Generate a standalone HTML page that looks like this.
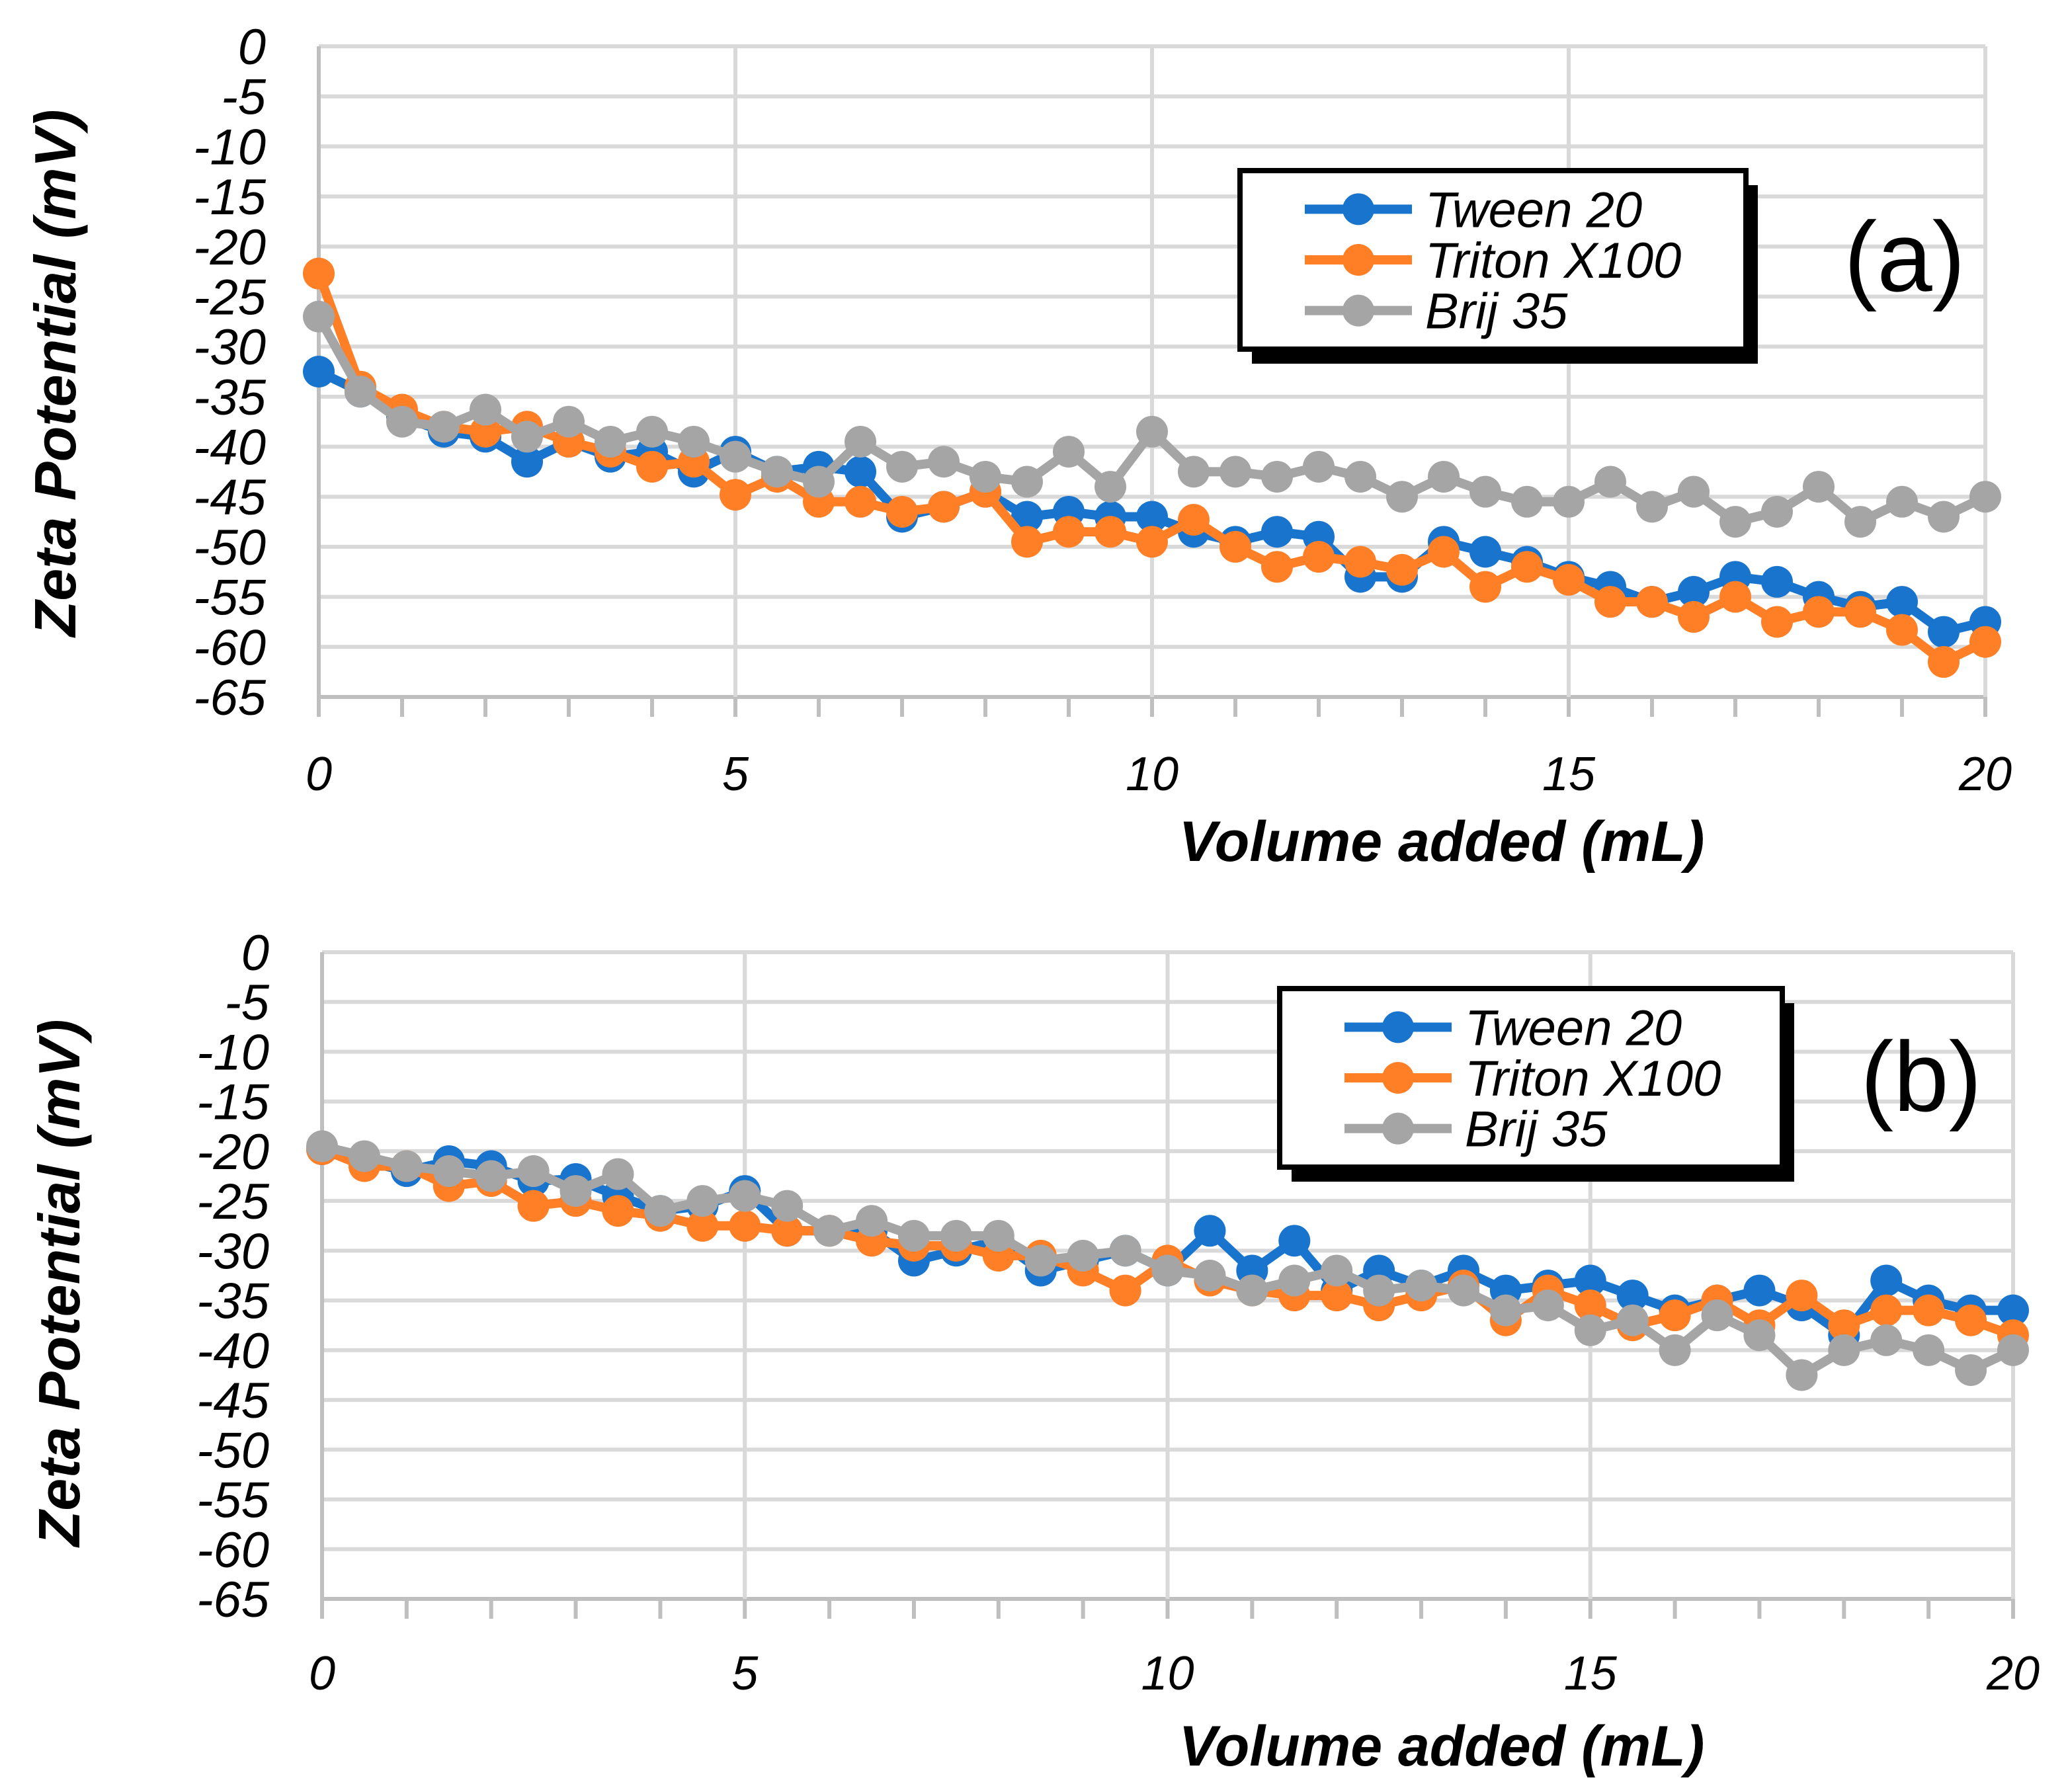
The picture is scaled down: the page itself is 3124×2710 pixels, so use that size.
<!DOCTYPE html>
<html><head><meta charset="utf-8">
<style>
html,body{margin:0;padding:0;background:#fff;}
svg{display:block;font-family:"Liberation Sans",sans-serif;}
</style></head>
<body>
<svg id="svg" width="3124" height="2710" viewBox="0 0 3124 2710" xmlns="http://www.w3.org/2000/svg"></svg>
<script>
const xValues = [0,0.5,1,1.5,2,2.5,3,3.5,4,4.5,5,5.5,6,6.5,7,7.5,8,8.5,9,9.5,10,10.5,11,11.5,12,12.5,13,13.5,14,14.5,15,15.5,16,16.5,17,17.5,18,18.5,19,19.5,20];
const seriesNames = ["Tween 20","Triton X100","Brij 35"];
const seriesColors = ["#1874cd","#ff7f27","#a5a5a5"];
const tweenA = [-32.5,-34.5,-37,-38.5,-39,-41.5,-39.5,-41,-40.5,-42.5,-40.5,-42.5,-42,-42.5,-47,-46,-44.5,-47,-46.5,-47,-47,-48.5,-49.5,-48.5,-49,-53,-53,-49.5,-50.5,-51.5,-53,-54,-55.5,-54.5,-53,-53.5,-55,-56,-55.5,-58.5,-57.5];
const tritonA = [-22.7,-34,-36.3,-38,-38.5,-38,-39.5,-40.5,-42,-41.5,-44.8,-43,-45.5,-45.5,-46.5,-46,-44.5,-49.5,-48.5,-48.5,-49.5,-47.3,-50,-52,-51,-51.5,-52.3,-50.5,-54,-52,-53.3,-55.5,-55.5,-57,-55,-57.5,-56.5,-56.5,-58.3,-61.5,-59.5];
const brijA = [-27,-34.5,-37.5,-38,-36.3,-39,-37.5,-39.5,-38.5,-39.5,-41,-42.5,-43.5,-39.5,-42,-41.5,-43,-43.5,-40.5,-44,-38.5,-42.5,-42.5,-43,-42,-43,-45,-43,-44.5,-45.5,-45.5,-43.5,-46,-44.5,-47.5,-46.5,-44,-47.5,-45.5,-47,-45];
const tweenB = [-19.8,-21,-22,-21,-21.5,-23,-22.8,-24.5,-26,-25.5,-24,-28,-28,-28,-31,-30,-29,-32,-31,-30,-32,-28,-32,-29,-34,-32,-33.5,-32,-34,-33.5,-33,-34.5,-36,-35,-34,-35.5,-38.5,-33,-35,-36,-36];
const tritonB = [-19.8,-21.5,-21.5,-23.5,-23,-25.5,-25,-26,-26.5,-27.5,-27.5,-28,-28,-29,-29.5,-29.5,-30.5,-30.5,-32,-34,-31,-33,-34,-34.5,-34.5,-35.5,-34.5,-33.5,-37,-34,-35.5,-37.5,-36.5,-35,-37.5,-34.5,-37.5,-36,-36,-37,-38.5];
const brijB = [-19.5,-20.5,-21.5,-22,-22.5,-22,-24,-22.3,-26,-25,-24.5,-25.5,-28,-27,-28.5,-28.5,-28.5,-31,-30.5,-30,-32,-32.5,-34,-33,-32,-34,-33.5,-34,-36,-35.5,-38,-37,-40,-36.5,-38.5,-42.5,-40,-39,-40,-42,-40];
const yTicks = [0,-5,-10,-15,-20,-25,-30,-35,-40,-45,-50,-55,-60,-65];
const xTicks = [0,5,10,15,20];

const NS="http://www.w3.org/2000/svg";
const svg=document.getElementById('svg');
function mk(tag,attrs,parent){const e=document.createElementNS(NS,tag);for(const k in attrs)e.setAttribute(k,attrs[k]);(parent||svg).appendChild(e);return e;}

function drawChart(cfg){
  const g=mk('g',{});
  
  
  const X=v=>cfg.x0+(v-0)/(20-0)*(cfg.x1-cfg.x0);
  const Y=v=>cfg.y0+(0-v)/(65)*(cfg.y1-cfg.y0);
  yTicks.forEach(t=>{
    const l=mk('line',{x1:X(0),x2:X(20),y1:Y(t),y2:Y(t),stroke:t===-65?'#bfbfbf':'#d9d9d9','stroke-width':6},g);
    
    
    const tx=mk('text',{x:cfg.x0-80,y:Y(t)+27,'text-anchor':'end','font-size':76,'font-style':'italic',fill:'#000'},g);
    tx.textContent=String(t);
    
    
  });
  xTicks.forEach(t=>{
    const l=mk('line',{x1:X(t),x2:X(t),y1:Y(0),y2:Y(-65),stroke:t===0?'#bfbfbf':'#d9d9d9','stroke-width':6},g);
    
    
    const tx=mk('text',{x:X(t),y:cfg.xLabelY,'text-anchor':'middle','font-size':72,'font-style':'italic',fill:'#000'},g);
    tx.textContent=String(t);
    
    
  });
  for(let t=0;t<=20;t++){
    const l=mk('line',{x1:X(t),x2:X(t),y1:Y(-65),y2:Y(-65)+30,stroke:'#bfbfbf','stroke-width':6},g);
    
    
  }
  cfg.series.forEach((s,i)=>{
    const sg=mk('g',{},g);
    
    
    const pts=xValues.map((x,j)=>X(x)+','+Y(s[j])).join(' ');
    const pl=mk('polyline',{points:pts,fill:'none',stroke:seriesColors[i],'stroke-width':14,'stroke-linejoin':'round'},sg);
    
    
    xValues.forEach((x,j)=>{
      const c=mk('circle',{cx:X(x),cy:Y(s[j]),r:24,fill:seriesColors[i]},sg);
      
      
    });
  });
  const xt=mk('text',{x:cfg.xTitleX,y:cfg.xTitleY,'text-anchor':'middle','font-size':86,'font-style':'italic','font-weight':'bold',fill:'#000'},g);
  xt.textContent='Volume added (mL)';
  
  
  const yt=mk('text',{x:0,y:0,'text-anchor':'middle','font-size':88,'font-style':'italic','font-weight':'bold',fill:'#000',transform:`translate(${cfg.yTitleX},${cfg.yTitleY}) rotate(-90)`},g);
  yt.textContent='Zeta Potential (mV)';
  
  
  const L=cfg.legend;
  const lg=mk('g',{},g);
  
  
  mk('rect',{x:L.x+18,y:L.y+22,width:L.w,height:L.h,fill:'#000'},lg);
  mk('rect',{x:L.x,y:L.y,width:L.w,height:L.h,fill:'#fff',stroke:'#000','stroke-width':8},lg);
  const rowH=(L.h-40)/3;
  seriesNames.forEach((n,i)=>{
    const cy=L.y+20+rowH*(i+0.5);
    const e=mk('g',{},lg);
    
    
    mk('line',{x1:L.x+98,x2:L.x+260,y1:cy,y2:cy,stroke:seriesColors[i],'stroke-width':14},e);
    mk('circle',{cx:L.x+179,cy:cy,r:24,fill:seriesColors[i]},e);
    const t=mk('text',{x:L.x+280,y:cy+27,'font-size':76,'font-style':'italic',fill:'#000'},e);
    t.textContent=n;
  });
  const pl=mk('text',{x:cfg.panel.x,y:cfg.panel.y,'text-anchor':'middle','font-size':150,fill:'#000'},g);
  pl.textContent=cfg.panel.t;
  
  
}

drawChart({id:'chart-a',x0:482,x1:3002,y0:70,y1:1054,xLabelY:1195,xTitleX:2180,xTitleY:1302,yTitleX:114,yTitleY:564,
  series:[tweenA,tritonA,brijA],legend:{x:1875,y:258,w:765,h:270},panel:{x:2880,y:440,t:'(a)'}});
drawChart({id:'chart-b',x0:487,x1:3044,y0:1440,y1:2418,xLabelY:2555,xTitleX:2180,xTitleY:2670,yTitleX:120,yTitleY:1940,
  series:[tweenB,tritonB,brijB],legend:{x:1935,y:1495,w:760,h:270},panel:{x:2905,y:1680,t:'(b)'}});
</script>
</body></html>
